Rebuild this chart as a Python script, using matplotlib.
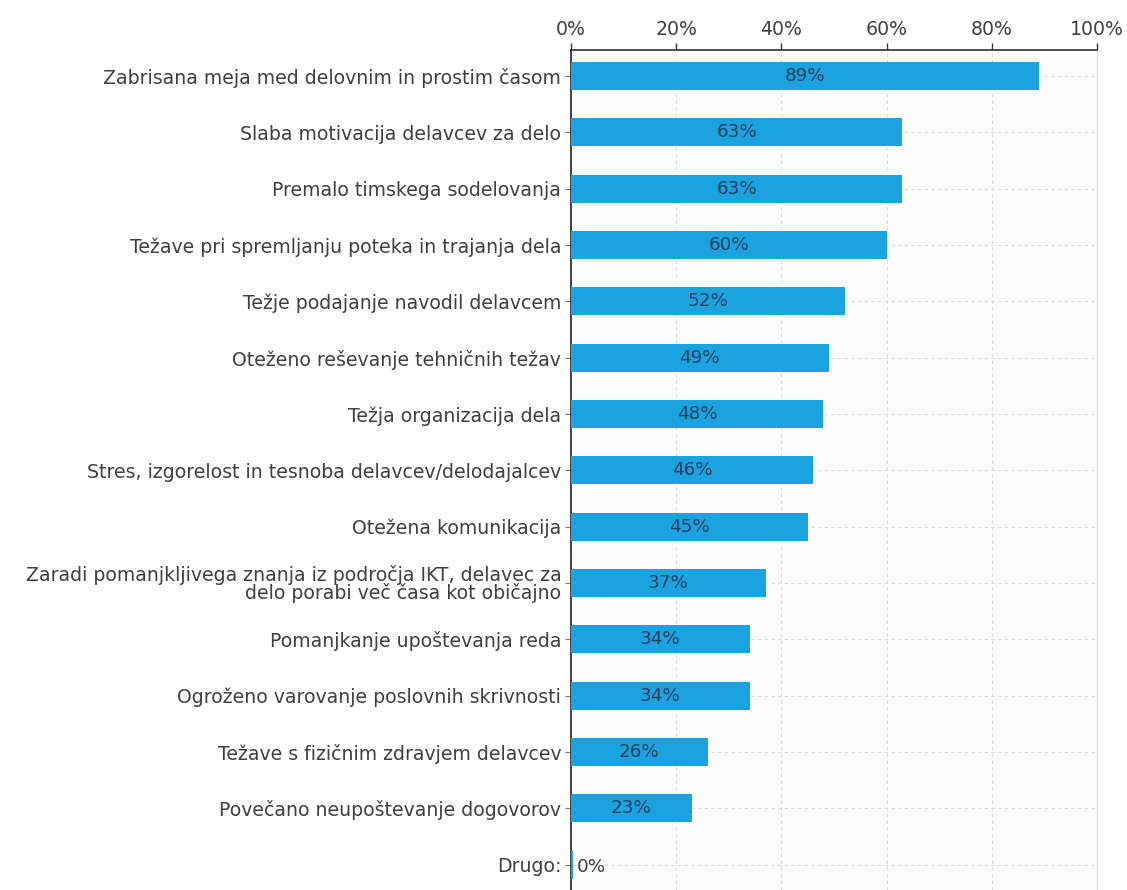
import numpy as np
import matplotlib.pyplot as plt

plt.rcParams['font.family'] = ['DejaVu Sans']

categories = [
    'Zabrisana meja med delovnim in prostim časom',
    'Slaba motivacija delavcev za delo',
    'Premalo timskega sodelovanja',
    'Težave pri spremljanju poteka in trajanja dela',
    'Težje podajanje navodil delavcem',
    'Oteženo reševanje tehničnih težav',
    'Težja organizacija dela',
    'Stres, izgorelost in tesnoba delavcev/delodajalcev',
    'Otežena komunikacija',
    'Zaradi pomanjkljivega znanja iz področja IKT, delavec za\ndelo porabi več časa kot običajno',
    'Pomanjkanje upoštevanja reda',
    'Ogroženo varovanje poslovnih skrivnosti',
    'Težave s fizičnim zdravjem delavcev',
    'Povečano neupoštevanje dogovorov',
    'Drugo:',
]
values = [89, 63, 63, 60, 52, 49, 48, 46, 45, 37, 34, 34, 26, 23, 0.4]
labels = ['89%', '63%', '63%', '60%', '52%', '49%', '48%', '46%', '45%',
          '37%', '34%', '34%', '26%', '23%', '0%']
ticks = [0, 20, 40, 60, 80, 100]

bar_color = '#1ba3e0'
text_gray = '#404040'
fs = 13.6

fig = plt.figure(figsize=(11.27, 8.9), dpi=100)
ax = fig.add_axes([571 / 1127, 0.0, (1097 - 571) / 1127, 1 - 50 / 890])
ax.set_facecolor('#fbfbfb')

y = np.arange(len(categories))
ax.barh(y, values, height=0.5, color=bar_color, zorder=3)

for yi, v, lab in zip(y, values, labels):
    if v >= 5:
        ax.text(v / 2, yi, lab, ha='center', va='center', fontsize=fs - 0.4,
                color='#1d3f5e', zorder=4)
    else:
        ax.text(v + 0.6, yi + 0.05, lab, ha='left', va='center', fontsize=fs - 0.4,
                color=text_gray, zorder=4)

ax.set_xlim(0, 100)
ax.set_ylim(len(categories) - 1 + 0.45, -0.46)
ax.set_yticks(y)
ax.set_yticklabels(categories, fontsize=fs, color=text_gray, ha='right',
                   linespacing=0.9)
ax.set_xticks(ticks)
ax.set_xticklabels([f'{t}%' for t in ticks], fontsize=fs, color=text_gray)
ax.xaxis.tick_top()
ax.tick_params(axis='x', length=5, width=1, color='#333333', pad=3)
ax.tick_params(axis='y', length=4, width=0.8, color='#777777', pad=3)

# dashed guides behind the bars
ax.grid(axis='x', linestyle=(0, (3, 3)), color='#dddddd', linewidth=0.8, zorder=0)
ax.grid(axis='y', linestyle=(0, (3, 3)), color='#dddddd', linewidth=0.8, zorder=0)

ax.spines['bottom'].set_visible(False)
ax.spines['right'].set_color('#dddddd')
ax.spines['top'].set_color('#333333')
ax.spines['top'].set_linewidth(1.2)
ax.spines['left'].set_color('#222222')
ax.spines['left'].set_linewidth(1.2)

fig.savefig('out.png', dpi=100, facecolor='white')
